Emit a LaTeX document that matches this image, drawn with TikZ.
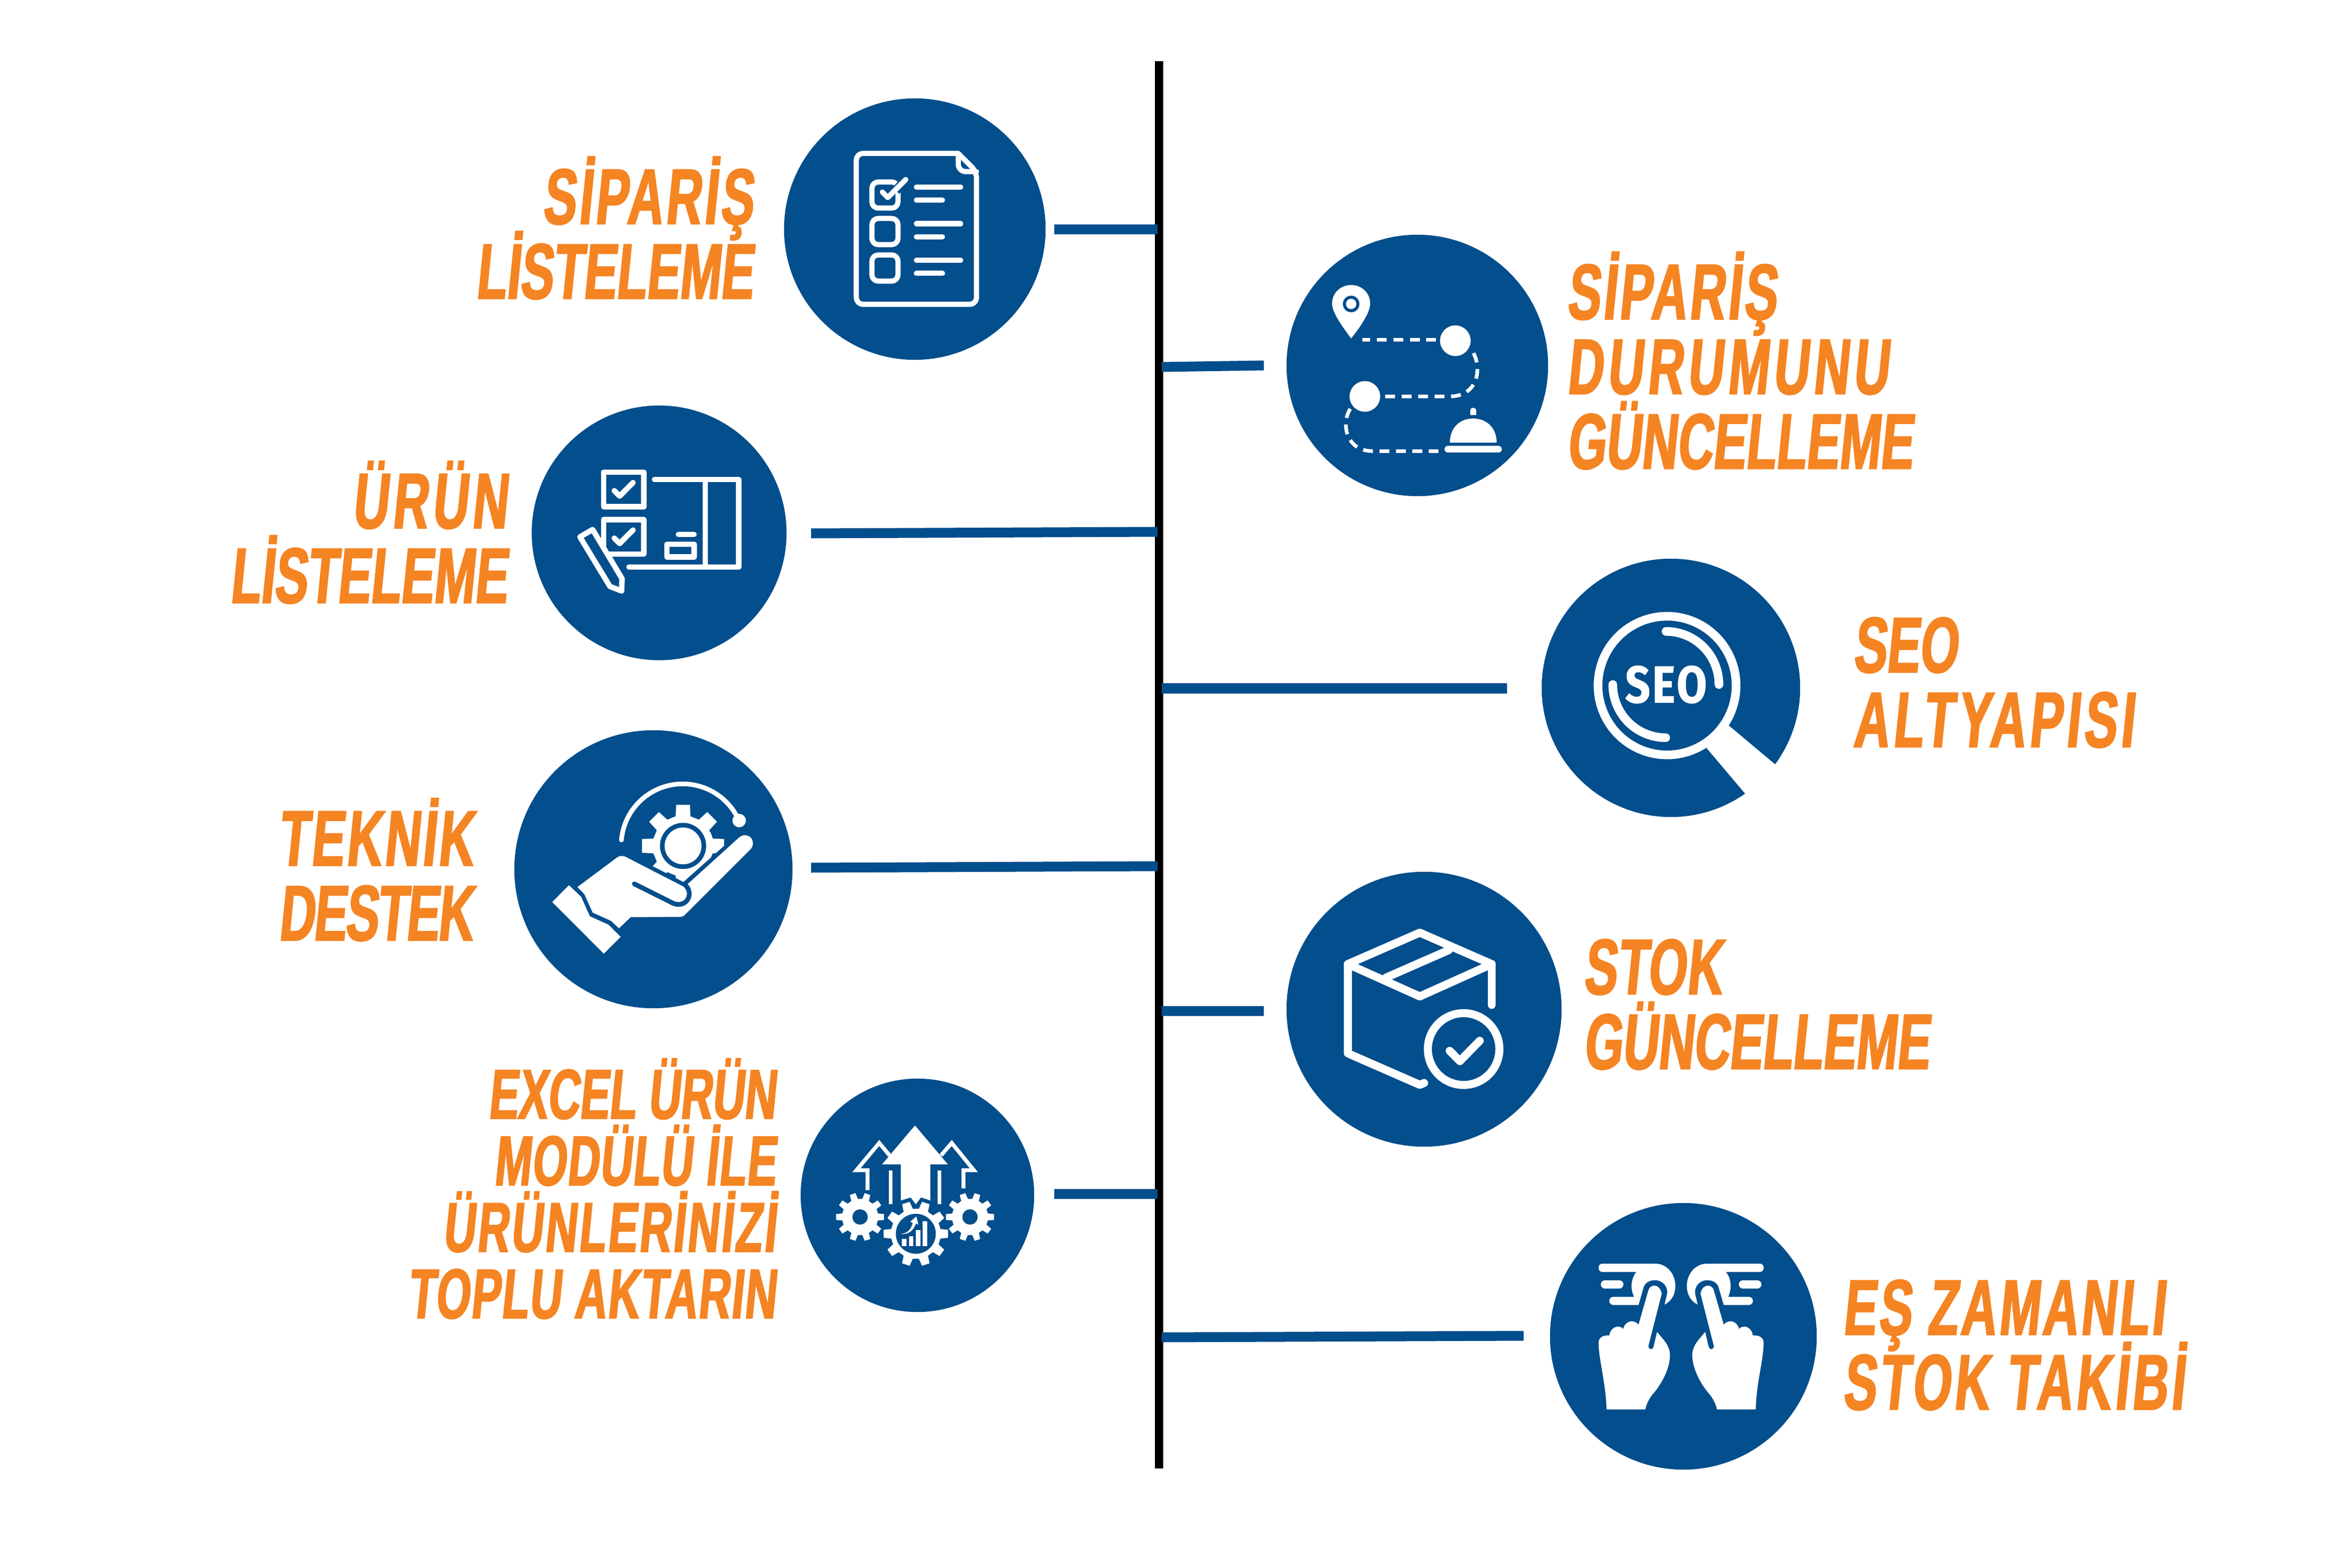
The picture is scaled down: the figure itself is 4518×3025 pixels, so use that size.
\documentclass[tikz,border=0pt]{standalone}
\usepackage{fontspec}
\newfontfamily\lab[FakeStretch=0.63,FakeSlant=0.1,FakeBold=1.8]{Liberation Sans Bold}
\newfontfamily\seofont[FakeStretch=0.84,LetterSpace=4,FakeBold=1]{Fira Sans Bold}
\newcommand{\ls}[2]{{\addfontfeature{LetterSpace=#1}#2}}
\newcommand{\tightlines}{\lineskiplimit=-60pt\relax}
\newcommand{\fontA}{\lab\fontsize{43}{41}\selectfont\tightlines}
\newcommand{\fontB}{\lab\fontsize{38.5}{36.5}\selectfont\tightlines}
\definecolor{bl}{HTML}{034E8C}
\definecolor{org}{HTML}{F58423}
\tikzset{
  disc/.style={circle,fill=bl,inner sep=0pt,minimum size=#1*0.02cm},
  spoke/.style={draw=bl,line width=0.19cm},
  wl/.style={draw=white,line width=#1,line join=round,line cap=round},
  txtA/.style={text=org,align=#1,font=\fontA,inner sep=0pt},
  txtB/.style={text=org,align=#1,font=\fontB,inner sep=0pt},
  dashw/.style={draw=white,line width=0.07cm,dash pattern=on 0.19cm off 0.127cm}
}
\newcommand{\gearfill}[7]{%
  \fill[white] ({#1+#4*cos(-180/#5)},{#2+#4*sin(-180/#5)})
  \foreach \k [evaluate=\k as \th using (\k-1)*360/#5] in {1,...,#5}{
    -- ({#1+#4*cos(\th-#7)},{#2+#4*sin(\th-#7)})
    -- ({#1+#3*cos(\th-#6)},{#2+#3*sin(\th-#6)})
    -- ({#1+#3*cos(\th+#6)},{#2+#3*sin(\th+#6)})
    -- ({#1+#4*cos(\th+#7)},{#2+#4*sin(\th+#7)})
  } -- cycle;}
\newcommand{\touchhand}{%
  \fill[white] (319,1154) .. controls (315,1000) and (275,880) .. (275,780)
    .. controls (275,755) and (300,738) .. (335,742)
    .. controls (338,710) and (365,690) .. (385,693)
    .. controls (398,693) and (408,700) .. (412,707)
    .. controls (415,680) and (440,662) .. (460,663)
    .. controls (475,663) and (490,672) .. (497,682)
    -- (552,490) .. controls (562,455) and (615,450) .. (626,510)
    -- (552,800) .. controls (552,825) and (578,825) .. (582,800)
    -- (600,722) -- (640,770) .. controls (660,795) and (672,825) .. (672,850)
    .. controls (672,930) and (620,1020) .. (575,1070)
    .. controls (555,1095) and (540,1125) .. (535,1154) -- cycle;
  \fill[white] (295,342) -- (590,342) .. controls (655,342) and (702,400) .. (702,465)
    .. controls (702,515) and (680,550) .. (642,570) -- (655,515)
    .. controls (665,470) and (630,434) .. (590,434)
    .. controls (555,434) and (532,450) .. (525,475) -- (497,572) -- (357,572)
    .. controls (327,572) and (327,527) .. (357,527) -- (472,527)
    .. controls (450,480) and (455,425) .. (485,388) -- (295,388)
    .. controls (268,388) and (268,342) .. (295,342) -- cycle;
  \draw[wl=0.16cm] (310,457) -- (390,457);
}
\begin{document}
\begin{tikzpicture}[x=0.01cm,y=-0.01cm]
\useasboundingbox (0,0) rectangle (4518,3025);
\fill[white] (0,0) rectangle (4518,3025);

% spine
\coordinate (sTop) at (2235,118);
\coordinate (sBot) at (2235,2833);
\draw[black,line width=0.16cm] (sTop) -- (sBot);

% discs
\node[disc=252] (c1) at (1764,442) {};
\node[disc=245.5] (c2) at (1271,1028) {};
\node[disc=268] (c3) at (1260,1677) {};
\node[disc=225] (c4) at (1769,2306) {};
\node[disc=252] (c5) at (2733,705) {};
\node[disc=249] (c6) at (3222,1327) {};
\node[disc=265] (c7) at (2746,1947) {};
\node[disc=257] (c8) at (3246,2578) {};

% connectors
\coordinate (a1) at (2033,443); \coordinate (b1) at (2232,443);
\coordinate (a2) at (2240,708); \coordinate (b2) at (2437,705);
\coordinate (a3) at (1564,1029); \coordinate (b3) at (2232,1026);
\coordinate (a4) at (2240,1328); \coordinate (b4) at (2906,1328);
\coordinate (a5) at (1564,1674); \coordinate (b5) at (2232,1671);
\coordinate (a6) at (2240,1950); \coordinate (b6) at (2437,1950);
\coordinate (a7) at (2033,2303); \coordinate (b7) at (2232,2303);
\coordinate (a8) at (2240,2580); \coordinate (b8) at (2938,2577);
\foreach \i in {1,...,8}{\draw[spoke] (a\i) -- (b\i);}

% icon 1: checklist
\begin{scope}[shift={(1498,178.6)},x=0.003579cm,y=-0.003454cm]
  \draw[wl=0.1cm,rounded corners=0.13cm] (975,340) -- (427,340) -- (427,1184) -- (1073,1184) -- (1073,442) -- (975,340);
  \draw[wl=0.1cm] (975,345) -- (975,400) .. controls (975,425) and (995,442) .. (1015,442) -- (1073,442);
  \draw[wl=0.1cm,rounded corners=0.12cm] (511,500) rectangle (651,646);
  \draw[wl=0.1cm,rounded corners=0.12cm] (511,704) rectangle (651,850);
  \draw[wl=0.1cm,rounded corners=0.12cm] (511,908) rectangle (651,1054);
  \draw[draw=bl,line width=0.18cm] (640,548) -- (685,498);
  \draw[wl=0.1cm] (567,556) -- (596,587) -- (693,486);
  \foreach \yy in {529,733,938}{\draw[wl=0.1cm] (750,\yy) -- (988,\yy);}
  \foreach \yy in {602,806,1011}{\draw[wl=0.1cm] (750,\yy) -- (890,\yy);}
\end{scope}

% icon 2: product list
\begin{scope}[shift={(1019,779.3)},x=0.003336cm,y=-0.003331cm]
  \draw[wl=0.105cm] (433,395) rectangle (665,595);
  \draw[wl=0.105cm] (433,670) rectangle (665,870);
  \draw[wl=0.105cm] (495,503) -- (526,534) -- (603,456);
  \draw[wl=0.105cm] (495,778) -- (526,809) -- (603,731);
  \draw[wl=0.105cm] (727,438) -- (1213,438) -- (1213,945) -- (580,945);
  \draw[wl=0.105cm] (1020,438) -- (1020,945);
  \draw[wl=0.105cm] (798,814) rectangle (956,887);
  \draw[wl=0.105cm] (865,757) -- (955,757);
  \draw[wl=0.105cm,fill=bl] (297,771) -- (370,728) -- (540,1013) -- (537,1084) -- (470,1058) -- cycle;
\end{scope}

% icon 3: hand and gear
\begin{scope}[shift={(989.2,1408.7)},x=0.003573cm,y=-0.003576cm]
  \draw[wl=0.09cm] plot[domain=175:28,samples=50] ({916+332*cos(\x)},{622-332*sin(\x)});
  \fill[white] (1221,488) circle[radius=0.13cm];
  \gearfill{918}{625}{225}{165}{8}{9.5}{14}
  \fill[bl] (745,730) -- (920,820) -- (1145,620) -- (1230,700) -- (930,900) -- (690,800) -- cycle;
  \fill[bl] (918,625) circle[radius=0.445cm];
  \fill[white] (918,625) circle[radius=0.355cm];
  \fill[white] (348,847) -- (565,685) .. controls (578,677) and (595,677) .. (610,685)
    -- (915,842) -- (925,832) -- (942,832) -- (1222,578)
    .. controls (1250,555) and (1295,570) .. (1295,610)
    .. controls (1295,625) and (1290,635) .. (1280,645)
    -- (935,990) .. controls (925,1002) and (915,1008) .. (905,1008)
    -- (635,1010) -- (572,1070) -- (530,1030) -- (430,985) -- (385,885) -- cycle;
  \draw[draw=bl,line width=0.09cm,line cap=round] (655,830) -- (865,935)
    .. controls (935,965) and (985,880) .. (925,832);
  \fill[white] (302,837) -- (212,928) -- (490,1207) -- (581,1116) -- (515,1050)
    -- (415,1005) -- (368,900) -- cycle;
\end{scope}

% icon 4: arrows and gears
\begin{scope}[shift={(1539,2079.3)},x=0.003333cm,y=-0.00334cm]
  \fill[white] (677,275) -- (868,500) -- (766,500) -- (766,708) -- (712,690) -- (682,730)
    -- (652,690) -- (595,708) -- (595,500) -- (486,500) -- cycle;
  \draw[draw=white,line width=0.075cm] (402,648) -- (402,533) -- (338,533) -- (470,376) -- (530,448);
  \draw[draw=white,line width=0.075cm] (958,638) -- (958,533) -- (1018,533) -- (890,376) -- (828,448);
  \fill[white] (525,535) rectangle (547,728);
  \fill[white] (808,535) rectangle (830,728);
  \gearfill{359}{803}{140}{105}{10}{7}{11}
  \fill[bl] (359,803) circle[radius=0.147cm];
  \gearfill{996}{803}{140}{105}{10}{7}{11}
  \fill[bl] (996,803) circle[radius=0.147cm];
  \gearfill{682}{900}{188}{145}{10}{7}{11}
  \fill[bl] (682,900) circle[radius=0.385cm];
  \fill[white] (601,930) rectangle (627,970);
  \fill[white] (642,913) rectangle (668,970);
  \fill[white] (682,879) rectangle (708,970);
  \fill[white] (722,827) rectangle (748,970);
  \fill[white] (595,902) .. controls (640,895) and (655,870) .. (664,838) -- (650,830)
    -- (685,800) -- (697,848) -- (683,840) .. controls (670,880) and (640,905) .. (595,902) -- cycle;
\end{scope}

% icon 5: route
\begin{scope}[shift={(2480,449.3)},x=0.00344cm,y=-0.003327cm]
  \fill[white] (365,612) .. controls (310,535) and (258,460) .. (258,410)
    .. controls (258,345) and (310,302) .. (365,302)
    .. controls (425,302) and (472,350) .. (472,410)
    .. controls (472,460) and (420,540) .. (365,612) -- cycle;
  \fill[bl] (365,412) circle[radius=0.16cm];
  \fill[white] (365,412) circle[radius=0.1cm];
  \fill[white] (950,625) circle[radius=0.295cm];
  \fill[white] (442,948) circle[radius=0.295cm];
  \draw[dashw] (842,619) -- (427,619);
  \draw[dashw] (1052,697) .. controls (1100,790) and (1075,948) .. (918,948) -- (550,948);
  \draw[dashw] (360,1020) .. controls (305,1110) and (340,1265) .. (485,1265) -- (855,1265);
  \fill[white] (919,1216) .. controls (919,1130) and (975,1076) .. (1050,1076)
    .. controls (1125,1076) and (1182,1130) .. (1182,1216) -- cycle;
  \draw[wl=0.13cm] (908,1255) -- (1192,1255);
  \fill[white] (1034,1056) -- (1034,1030) .. controls (1034,1008) and (1067,1008) .. (1067,1030) -- (1067,1056) -- cycle;
\end{scope}

% icon 6: SEO magnifier
\begin{scope}[shift={(2980,1069.7)},x=0.00331cm,y=-0.003324cm]
  \fill[white] (938,1122) -- (1163,1387) -- (1250,1540) -- (1520,1300) -- (1337,1217) -- (1068,992) -- cycle;
  \draw[draw=white,line width=0.167cm] plot[domain=0:360,samples=80] ({708+402*cos(\x)},{760+402*sin(\x)});
  \draw[wl=0.167cm] plot[domain=-90:0,samples=30] ({702+308*cos(\x)},{754+308*sin(\x)});
  \draw[wl=0.167cm] plot[domain=180:90,samples=30] ({700+308*cos(\x)},{754+308*sin(\x)});
  \node[text=white,font=\seofont\fontsize{28.5}{30}\selectfont,inner sep=0pt] (seo) at (702,754) {SEO};
\end{scope}

% icon 7: box
\begin{scope}[shift={(2490,1678)},x=0.003455cm,y=-0.003457cm]
  \draw[wl=0.155cm] (316,525) -- (718,350) -- (1120,525) -- (718,705) -- cycle;
  \draw[wl=0.155cm] (316,525) -- (316,1022) -- (718,1197) -- (742,1187);
  \draw[wl=0.155cm] (1120,525) -- (1120,752);
  \draw[wl=0.155cm] (530,600) -- (880,447);
  \draw[wl=0.155cm] plot[domain=0:360,samples=80] ({963+200*cos(\x)},{998+200*sin(\x)});
  \draw[wl=0.155cm] (885,1008) -- (942,1065) -- (1053,952);
\end{scope}

% icon 8: two hands
\begin{scope}[shift={(2987.3,2319.3)},x=0.00346cm,y=-0.003457cm]
  \touchhand
  \begin{scope}[shift={(1468,0)},xscale=-1]
    \touchhand
  \end{scope}
\end{scope}

% labels
\node[txtA=right,anchor=base east] (t1) at (1452,576) {\ls{3.5}{SİPARİŞ}\\LİSTELEME};
\node[txtA=right,anchor=base east] (t2) at (978,1163) {\ls{5.2}{ÜRÜN}\\LİSTELEME};
\node[txtA=center,anchor=base] (t3) at (724,1814) {\ls{2.9}{TEKNİK}\\\ls{-1.5}{DESTEK}};
\node[txtB=right,anchor=base east] (t4) at (1496,2543) {EXCEL ÜRÜN\\\ls{1.2}{MODÜLÜ İLE}\\\ls{2.7}{ÜRÜNLERİNİZİ}\\\ls{1.4}{TOPLU AKTARIN}};
\node[txtA=left,anchor=base west] (t5) at (3020,904) {\ls{3.3}{SİPARİŞ}\\\ls{5.6}{DURUMUNU}\\GÜNCELLEME};
\node[txtA=left,anchor=base west] (t6) at (3572,1441) {SEO\\\ls{4.9}{ALTYAPISI}};
\node[txtA=left,anchor=base west] (t7) at (3052,2062) {\ls{1}{STOK}\\GÜNCELLEME};
\node[txtA=left,anchor=base west] (t8) at (3552,2719) {\ls{3.2}{EŞ ZAMANLI}\\\ls{4.3}{STOK TAKİBİ}};
\end{tikzpicture}
\end{document}
